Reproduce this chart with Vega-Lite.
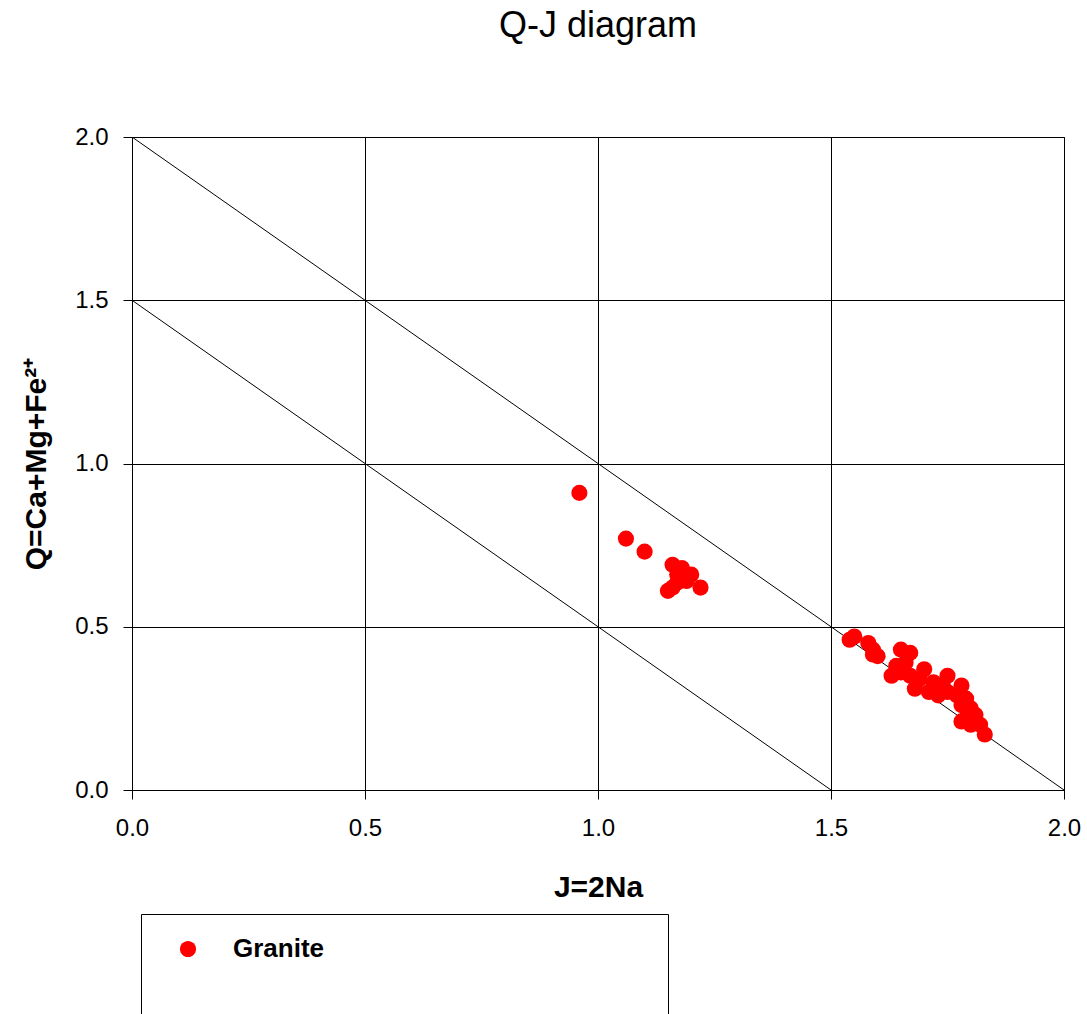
{
  "$schema": "https://vega.github.io/schema/vega-lite/v6.json",
  "autosize": "none",
  "width": 932,
  "height": 653,
  "padding": {"left": 132, "top": 137, "right": 23, "bottom": 224},
  "background": "white",
  "title": {"text": "Q-J diagram", "fontSize": 36, "font": "Liberation Sans", "fontWeight": "normal", "color": "black", "anchor": "middle", "offset": 80},
  "config": {
    "view": {"stroke": "black", "strokeWidth": 1},
    "font": "Liberation Sans"
  },
  "datasets": {
    "pts": [
      {"type": "Granite", "J": 0.96, "Q": 0.91},
      {"type": "Granite", "J": 1.06, "Q": 0.77},
      {"type": "Granite", "J": 1.10, "Q": 0.73},
      {"type": "Granite", "J": 1.16, "Q": 0.69},
      {"type": "Granite", "J": 1.18, "Q": 0.68},
      {"type": "Granite", "J": 1.17, "Q": 0.66},
      {"type": "Granite", "J": 1.20, "Q": 0.66},
      {"type": "Granite", "J": 1.19, "Q": 0.64},
      {"type": "Granite", "J": 1.17, "Q": 0.635},
      {"type": "Granite", "J": 1.16, "Q": 0.62},
      {"type": "Granite", "J": 1.15, "Q": 0.61},
      {"type": "Granite", "J": 1.22, "Q": 0.62},
      {"type": "Granite", "J": 1.54, "Q": 0.46},
      {"type": "Granite", "J": 1.55, "Q": 0.47},
      {"type": "Granite", "J": 1.58, "Q": 0.45},
      {"type": "Granite", "J": 1.59, "Q": 0.43},
      {"type": "Granite", "J": 1.60, "Q": 0.41},
      {"type": "Granite", "J": 1.59, "Q": 0.415},
      {"type": "Granite", "J": 1.63, "Q": 0.35},
      {"type": "Granite", "J": 1.64, "Q": 0.38},
      {"type": "Granite", "J": 1.65, "Q": 0.36},
      {"type": "Granite", "J": 1.65, "Q": 0.43},
      {"type": "Granite", "J": 1.67, "Q": 0.42},
      {"type": "Granite", "J": 1.66, "Q": 0.39},
      {"type": "Granite", "J": 1.67, "Q": 0.35},
      {"type": "Granite", "J": 1.68, "Q": 0.31},
      {"type": "Granite", "J": 1.69, "Q": 0.34},
      {"type": "Granite", "J": 1.70, "Q": 0.37},
      {"type": "Granite", "J": 1.71, "Q": 0.30},
      {"type": "Granite", "J": 1.72, "Q": 0.33},
      {"type": "Granite", "J": 1.73, "Q": 0.29},
      {"type": "Granite", "J": 1.74, "Q": 0.32},
      {"type": "Granite", "J": 1.75, "Q": 0.35},
      {"type": "Granite", "J": 1.75, "Q": 0.30},
      {"type": "Granite", "J": 1.77, "Q": 0.29},
      {"type": "Granite", "J": 1.78, "Q": 0.32},
      {"type": "Granite", "J": 1.78, "Q": 0.26},
      {"type": "Granite", "J": 1.79, "Q": 0.28},
      {"type": "Granite", "J": 1.79, "Q": 0.22},
      {"type": "Granite", "J": 1.78, "Q": 0.21},
      {"type": "Granite", "J": 1.80, "Q": 0.25},
      {"type": "Granite", "J": 1.81, "Q": 0.23},
      {"type": "Granite", "J": 1.80, "Q": 0.20},
      {"type": "Granite", "J": 1.82, "Q": 0.20},
      {"type": "Granite", "J": 1.83, "Q": 0.17}
    ],
    "lines": [
      {"line": "a", "J": 0, "Q": 2},
      {"line": "a", "J": 2, "Q": 0},
      {"line": "b", "J": 0, "Q": 1.5},
      {"line": "b", "J": 1.5, "Q": 0}
    ]
  },
  "layer": [
    {
      "data": {"name": "lines"},
      "mark": {"type": "line", "color": "black", "strokeWidth": 1, "clip": true},
      "encoding": {
        "x": {"field": "J", "type": "quantitative", "scale": {"domain": [0, 2], "nice": false, "zero": false},
          "axis": {"values": [0, 0.5, 1, 1.5, 2], "format": ".1f", "grid": true, "gridColor": "black", "gridWidth": 1, "gridOpacity": 1,
            "domainColor": "black", "tickColor": "black", "tickSize": 9, "labelFontSize": 24, "labelColor": "black", "labelPadding": 17, "labelFlush": false,
            "title": "J=2Na", "titleFontSize": 30, "titleFontWeight": "bold", "titleColor": "black", "titlePadding": 32, "labelFont": "Liberation Sans", "titleFont": "Liberation Sans"}},
        "y": {"field": "Q", "type": "quantitative", "scale": {"domain": [0, 2], "nice": false, "zero": false},
          "axis": {"values": [0, 0.5, 1, 1.5, 2], "format": ".1f", "grid": true, "gridColor": "black", "gridWidth": 1, "gridOpacity": 1,
            "domainColor": "black", "tickColor": "black", "tickSize": 9, "labelFontSize": 24, "labelColor": "black", "labelPadding": 15, "labelFlush": false,
            "title": "Q=Ca+Mg+Fe²⁺", "titleFontSize": 30, "titleFontWeight": "bold", "titleColor": "black", "titlePadding": 23, "labelFont": "Liberation Sans", "titleFont": "Liberation Sans"}},
        "detail": {"field": "line", "type": "nominal"}
      }
    },
    {
      "data": {"name": "pts"},
      "mark": {"type": "point", "shape": "circle", "filled": true, "size": 260, "opacity": 1},
      "encoding": {
        "x": {"field": "J", "type": "quantitative"},
        "y": {"field": "Q", "type": "quantitative"},
        "color": {"field": "type", "type": "nominal", "scale": {"range": ["#ff0000"]},
          "legend": {"title": null,
            "orient": "none", "legendX": 9, "legendY": 777, "strokeColor": "black", "padding": 22,
            "symbolType": "M -1 0 A 1 1 0 1 0 1 0 A 1 1 0 1 0 -1 0 Z M 56.7 14", "symbolSize": 260, "symbolOffset": 12, "labelOffset": 32, "labelFontSize": 26, "labelFontWeight": "bold",
            "labelColor": "black", "labelFont": "Liberation Sans", "symbolStrokeWidth": 0}}
      }
    }
  ]
}
